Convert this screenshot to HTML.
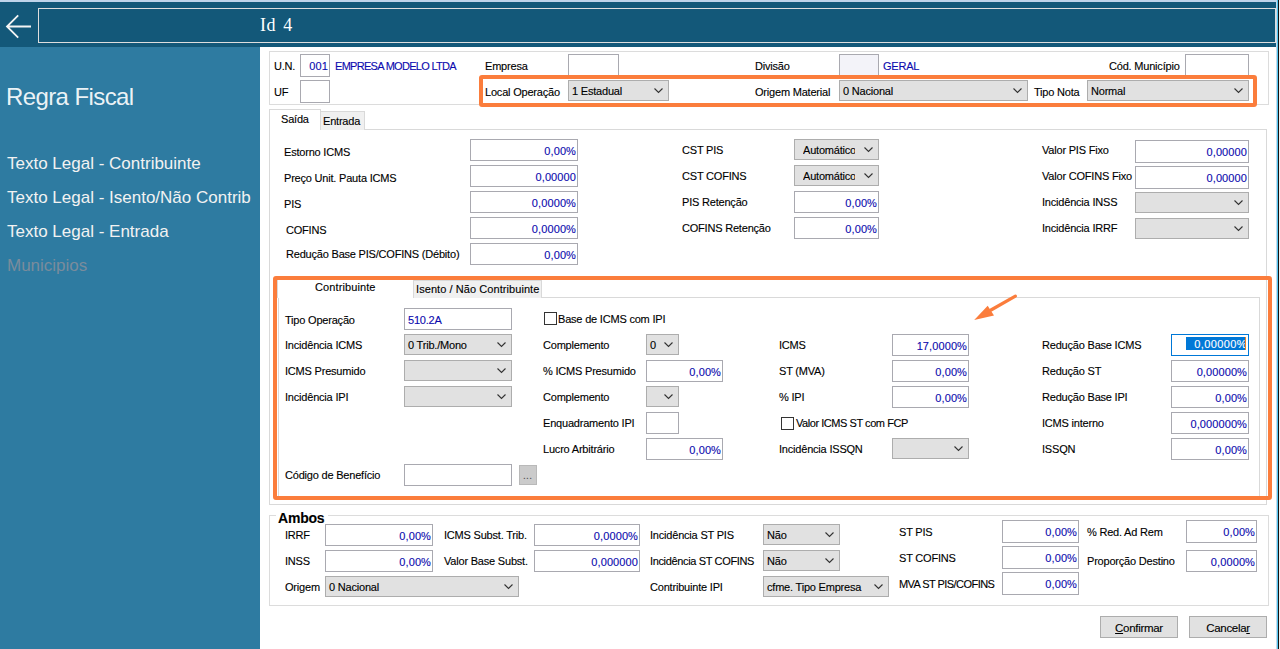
<!DOCTYPE html>
<html><head><meta charset="utf-8"><style>
html,body{margin:0;padding:0;width:1280px;height:649px;overflow:hidden;background:#fff;font-family:'Liberation Sans', sans-serif;}
.t{position:absolute;white-space:nowrap;font-size:11px;line-height:13px;font-family:'Liberation Sans', sans-serif;letter-spacing:-0.2px;-webkit-text-stroke:0.12px currentColor;}
.s{position:absolute;white-space:nowrap;font-family:'Liberation Sans', sans-serif;color:#fff;}
</style></head><body>
<div style="position:absolute;left:0px;top:0px;width:1280px;height:2px;background:#bfd4ea;"></div>
<div style="position:absolute;left:0px;top:2px;width:1276px;height:45px;background:#135879;"></div>
<svg style="position:absolute;left:0;top:0" width="40" height="47" viewBox="0 0 40 47"><path d="M18.2 15.4 L7 26.5 L18.2 37.6 M7 26.5 L31 26.5" fill="none" stroke="#f4f4f4" stroke-width="1.8"/></svg>
<div style="position:absolute;left:38px;top:8px;width:1238px;height:35px;box-sizing:border-box;border:1px solid #dedede;"></div>
<div class="s" style="left:260px;top:14px;font-family:'Liberation Serif',serif;font-size:18px;line-height:22px;letter-spacing:0.6px;word-spacing:2px">Id 4</div>
<div style="position:absolute;left:1276px;top:0px;width:1px;height:649px;background:#c5d8ea;"></div>
<div style="position:absolute;left:1277px;top:0px;width:1px;height:649px;background:#50c6ef;"></div>
<div style="position:absolute;left:1278px;top:0px;width:1px;height:649px;background:#111;"></div>
<div style="position:absolute;left:1279px;top:0px;width:1px;height:649px;background:#f0f0f0;"></div>
<div style="position:absolute;left:0px;top:47px;width:260px;height:602px;background:#2e7ba1;"></div>
<div class="s" style="left:6px;top:83px;font-size:24px;line-height:28px;letter-spacing:-0.6px;color:rgba(255,255,255,0.92)">Regra Fiscal</div>
<div class="s" style="left:7px;top:154px;font-size:17px;line-height:20px;color:#f2f2f2">Texto Legal - Contribuinte</div>
<div class="s" style="left:7px;top:188px;font-size:17px;line-height:20px;color:#f2f2f2">Texto Legal - Isento/Não Contrib</div>
<div class="s" style="left:7px;top:222px;font-size:17px;line-height:20px;color:#f2f2f2">Texto Legal - Entrada</div>
<div class="s" style="left:7px;top:256px;font-size:17px;line-height:20px;color:#7a8c9c">Municipios</div>
<div style="position:absolute;left:269px;top:51px;width:1000px;height:54px;box-sizing:border-box;border:1px solid #dcdcdc;"></div>
<div class="t" style="left:274px;top:60px;font-size:11px;color:#000;">U.N.</div>
<div style="position:absolute;left:300px;top:54px;width:30px;height:23px;box-sizing:border-box;border:1px solid #a9a9b0;background:#fff;"></div>
<div class="t" style="left:300px;width:28px;text-align:right;top:60px;color:#0c0aae;letter-spacing:0.1px;">001</div>
<div class="t" style="left:335px;top:60px;font-size:11px;color:#0c0aae;letter-spacing:-0.7px">EMPRESA MODELO LTDA</div>
<div class="t" style="left:274px;top:86px;font-size:11px;color:#000;">UF</div>
<div style="position:absolute;left:300px;top:80px;width:30px;height:23px;box-sizing:border-box;border:1px solid #a9a9b0;background:#fff;"></div>
<div class="t" style="left:485px;top:60px;font-size:11px;color:#000;">Empresa</div>
<div style="position:absolute;left:568px;top:54px;width:51px;height:23px;box-sizing:border-box;border:1px solid #a9a9b0;background:#fff;"></div>
<div class="t" style="left:755px;top:60px;font-size:11px;color:#000;">Divisão</div>
<div style="position:absolute;left:839px;top:54px;width:40px;height:23px;box-sizing:border-box;border:1px solid #a9a9b0;background:#f3f3f9;"></div>
<div class="t" style="left:883px;top:60px;font-size:11px;color:#0c0aae;">GERAL</div>
<div class="t" style="left:1109px;top:60px;font-size:11px;color:#000;">Cód. Município</div>
<div style="position:absolute;left:1185px;top:54px;width:64px;height:23px;box-sizing:border-box;border:1px solid #a9a9b0;background:#fff;"></div>
<div class="t" style="left:485px;top:86px;font-size:11px;color:#000;">Local Operação</div>
<div style="position:absolute;left:568px;top:80px;width:101px;height:21px;box-sizing:border-box;border:1px solid #adadad;background:#e1e1e1;"></div>
<div class="t" style="left:572px;top:85px;">1 Estadual</div>
<svg style="position:absolute;left:654px;top:88px" width="10" height="6" viewBox="0 0 10 6"><path d="M0.5 0.5 L4.5 4.5 L8.5 0.5" fill="none" stroke="#333" stroke-width="1.1"/></svg>
<div class="t" style="left:755px;top:86px;font-size:11px;color:#000;">Origem Material</div>
<div style="position:absolute;left:839px;top:80px;width:189px;height:21px;box-sizing:border-box;border:1px solid #adadad;background:#e1e1e1;"></div>
<div class="t" style="left:843px;top:85px;">0 Nacional</div>
<svg style="position:absolute;left:1013px;top:88px" width="10" height="6" viewBox="0 0 10 6"><path d="M0.5 0.5 L4.5 4.5 L8.5 0.5" fill="none" stroke="#333" stroke-width="1.1"/></svg>
<div class="t" style="left:1034px;top:86px;font-size:11px;color:#000;">Tipo Nota</div>
<div style="position:absolute;left:1087px;top:80px;width:162px;height:21px;box-sizing:border-box;border:1px solid #adadad;background:#e1e1e1;"></div>
<div class="t" style="left:1091px;top:85px;">Normal</div>
<svg style="position:absolute;left:1234px;top:88px" width="10" height="6" viewBox="0 0 10 6"><path d="M0.5 0.5 L4.5 4.5 L8.5 0.5" fill="none" stroke="#333" stroke-width="1.1"/></svg>
<div style="position:absolute;left:269px;top:129px;width:998px;height:376px;box-sizing:border-box;border:1px solid #d9d9d9;"></div>
<div style="position:absolute;left:320px;top:111px;width:45px;height:19px;box-sizing:border-box;border:1px solid #d9d9d9;border-bottom:none;background:#f0f0f0;"></div>
<div style="position:absolute;left:269px;top:109px;width:52px;height:21px;box-sizing:border-box;border:1px solid #d9d9d9;border-bottom:none;background:#fff;"></div>
<div class="t" style="left:281px;top:113px;font-size:11px;color:#000;">Saída</div>
<div class="t" style="left:323px;top:115px;font-size:11px;color:#000;">Entrada</div>
<div class="t" style="left:284px;top:146px;font-size:11px;color:#000;">Estorno ICMS</div>
<div style="position:absolute;left:470px;top:139px;width:108px;height:22px;box-sizing:border-box;border:1px solid #a9a9b0;background:#fff;"></div>
<div class="t" style="left:470px;width:106px;text-align:right;top:145px;color:#0c0aae;letter-spacing:0.1px;">0,00%</div>
<div class="t" style="left:284px;top:172px;font-size:11px;color:#000;">Preço Unit. Pauta ICMS</div>
<div style="position:absolute;left:470px;top:165px;width:108px;height:22px;box-sizing:border-box;border:1px solid #a9a9b0;background:#fff;"></div>
<div class="t" style="left:470px;width:106px;text-align:right;top:171px;color:#0c0aae;letter-spacing:0.1px;">0,00000</div>
<div class="t" style="left:284px;top:198px;font-size:11px;color:#000;">PIS</div>
<div style="position:absolute;left:470px;top:191px;width:108px;height:22px;box-sizing:border-box;border:1px solid #a9a9b0;background:#fff;"></div>
<div class="t" style="left:470px;width:106px;text-align:right;top:197px;color:#0c0aae;letter-spacing:0.1px;">0,0000%</div>
<div class="t" style="left:286px;top:224px;font-size:11px;color:#000;">COFINS</div>
<div style="position:absolute;left:470px;top:217px;width:108px;height:22px;box-sizing:border-box;border:1px solid #a9a9b0;background:#fff;"></div>
<div class="t" style="left:470px;width:106px;text-align:right;top:223px;color:#0c0aae;letter-spacing:0.1px;">0,0000%</div>
<div class="t" style="left:286px;top:248px;font-size:11px;color:#000;">Redução Base PIS/COFINS (Débito)</div>
<div style="position:absolute;left:470px;top:243px;width:108px;height:22px;box-sizing:border-box;border:1px solid #a9a9b0;background:#fff;"></div>
<div class="t" style="left:470px;width:106px;text-align:right;top:249px;color:#0c0aae;letter-spacing:0.1px;">0,00%</div>
<div class="t" style="left:682px;top:144px;font-size:11px;color:#000;">CST PIS</div>
<div class="t" style="left:682px;top:170px;font-size:11px;color:#000;">CST COFINS</div>
<div class="t" style="left:682px;top:196px;font-size:11px;color:#000;">PIS Retenção</div>
<div class="t" style="left:682px;top:222px;font-size:11px;color:#000;">COFINS Retenção</div>
<div style="position:absolute;left:794px;top:139px;width:85px;height:21px;box-sizing:border-box;border:1px solid #adadad;background:#e1e1e1;"></div>
<div class="t" style="left:803px;top:144px;width:52px;overflow:hidden;">Automático</div>
<svg style="position:absolute;left:864px;top:147px" width="10" height="6" viewBox="0 0 10 6"><path d="M0.5 0.5 L4.5 4.5 L8.5 0.5" fill="none" stroke="#333" stroke-width="1.1"/></svg>
<div style="position:absolute;left:794px;top:165px;width:85px;height:21px;box-sizing:border-box;border:1px solid #adadad;background:#e1e1e1;"></div>
<div class="t" style="left:803px;top:170px;width:52px;overflow:hidden;">Automático</div>
<svg style="position:absolute;left:864px;top:173px" width="10" height="6" viewBox="0 0 10 6"><path d="M0.5 0.5 L4.5 4.5 L8.5 0.5" fill="none" stroke="#333" stroke-width="1.1"/></svg>
<div style="position:absolute;left:794px;top:191px;width:85px;height:22px;box-sizing:border-box;border:1px solid #a9a9b0;background:#fff;"></div>
<div class="t" style="left:794px;width:83px;text-align:right;top:197px;color:#0c0aae;letter-spacing:0.1px;">0,00%</div>
<div style="position:absolute;left:794px;top:217px;width:85px;height:22px;box-sizing:border-box;border:1px solid #a9a9b0;background:#fff;"></div>
<div class="t" style="left:794px;width:83px;text-align:right;top:223px;color:#0c0aae;letter-spacing:0.1px;">0,00%</div>
<div class="t" style="left:1042px;top:144px;font-size:11px;color:#000;">Valor PIS Fixo</div>
<div class="t" style="left:1042px;top:170px;font-size:11px;color:#000;">Valor COFINS Fixo</div>
<div class="t" style="left:1042px;top:196px;font-size:11px;color:#000;">Incidência INSS</div>
<div class="t" style="left:1042px;top:222px;font-size:11px;color:#000;">Incidência IRRF</div>
<div style="position:absolute;left:1135px;top:140px;width:114px;height:23px;box-sizing:border-box;border:1px solid #a9a9b0;background:#fff;"></div>
<div class="t" style="left:1135px;width:112px;text-align:right;top:146px;color:#0c0aae;letter-spacing:0.1px;">0,00000</div>
<div style="position:absolute;left:1135px;top:166px;width:114px;height:23px;box-sizing:border-box;border:1px solid #a9a9b0;background:#fff;"></div>
<div class="t" style="left:1135px;width:112px;text-align:right;top:172px;color:#0c0aae;letter-spacing:0.1px;">0,00000</div>
<div style="position:absolute;left:1135px;top:192px;width:114px;height:21px;box-sizing:border-box;border:1px solid #adadad;background:#e1e1e1;"></div>
<svg style="position:absolute;left:1234px;top:200px" width="10" height="6" viewBox="0 0 10 6"><path d="M0.5 0.5 L4.5 4.5 L8.5 0.5" fill="none" stroke="#333" stroke-width="1.1"/></svg>
<div style="position:absolute;left:1135px;top:218px;width:114px;height:21px;box-sizing:border-box;border:1px solid #adadad;background:#e1e1e1;"></div>
<svg style="position:absolute;left:1234px;top:226px" width="10" height="6" viewBox="0 0 10 6"><path d="M0.5 0.5 L4.5 4.5 L8.5 0.5" fill="none" stroke="#333" stroke-width="1.1"/></svg>
<div style="position:absolute;left:278px;top:297px;width:982px;height:202px;box-sizing:border-box;border:1px solid #d9d9d9;"></div>
<div style="position:absolute;left:413px;top:280px;width:129px;height:18px;box-sizing:border-box;border:1px solid #d9d9d9;border-bottom:none;background:#f0f0f0;"></div>
<div style="position:absolute;left:277px;top:278px;width:137px;height:20px;box-sizing:border-box;border:1px solid #d9d9d9;border-bottom:none;background:#fff;"></div>
<div class="t" style="left:315px;top:281px;font-size:11px;color:#000;letter-spacing:0.1px">Contribuinte</div>
<div class="t" style="left:416px;top:283px;font-size:11px;color:#000;letter-spacing:0.07px">Isento / Não Contribuinte</div>
<div class="t" style="left:285px;top:314px;font-size:11px;color:#000;">Tipo Operação</div>
<div style="position:absolute;left:404px;top:308px;width:108px;height:22px;box-sizing:border-box;border:1px solid #a9a9b0;background:#fff;"></div>
<div class="t" style="left:408px;top:314px;color:#0c0aae;">510.2A</div>
<div class="t" style="left:285px;top:339px;font-size:11px;color:#000;">Incidência ICMS</div>
<div style="position:absolute;left:404px;top:334px;width:108px;height:21px;box-sizing:border-box;border:1px solid #adadad;background:#e1e1e1;"></div>
<div class="t" style="left:408px;top:339px;">0 Trib./Mono</div>
<svg style="position:absolute;left:497px;top:342px" width="10" height="6" viewBox="0 0 10 6"><path d="M0.5 0.5 L4.5 4.5 L8.5 0.5" fill="none" stroke="#333" stroke-width="1.1"/></svg>
<div class="t" style="left:285px;top:365px;font-size:11px;color:#000;">ICMS Presumido</div>
<div style="position:absolute;left:404px;top:360px;width:108px;height:21px;box-sizing:border-box;border:1px solid #adadad;background:#e1e1e1;"></div>
<svg style="position:absolute;left:497px;top:368px" width="10" height="6" viewBox="0 0 10 6"><path d="M0.5 0.5 L4.5 4.5 L8.5 0.5" fill="none" stroke="#333" stroke-width="1.1"/></svg>
<div class="t" style="left:285px;top:391px;font-size:11px;color:#000;">Incidência IPI</div>
<div style="position:absolute;left:404px;top:386px;width:108px;height:21px;box-sizing:border-box;border:1px solid #adadad;background:#e1e1e1;"></div>
<svg style="position:absolute;left:497px;top:394px" width="10" height="6" viewBox="0 0 10 6"><path d="M0.5 0.5 L4.5 4.5 L8.5 0.5" fill="none" stroke="#333" stroke-width="1.1"/></svg>
<div class="t" style="left:285px;top:469px;font-size:11px;color:#000;">Código de Benefício</div>
<div style="position:absolute;left:404px;top:464px;width:108px;height:22px;box-sizing:border-box;border:1px solid #a9a9b0;background:#fff;"></div>
<div style="position:absolute;left:519px;top:465px;width:18px;height:20px;box-sizing:border-box;border:1px solid #b9b9b9;background:#cbcbcb;"></div>
<div class="t" style="left:523px;top:469px;color:#505050;font-size:10px;letter-spacing:0.3px">...</div>
<div style="position:absolute;left:544px;top:312px;width:13px;height:13px;box-sizing:border-box;border:1px solid #333;background:#fff;"></div>
<div class="t" style="left:558px;top:313px;font-size:11px;color:#000;">Base de ICMS com IPI</div>
<div class="t" style="left:543px;top:339px;font-size:11px;color:#000;">Complemento</div>
<div style="position:absolute;left:646px;top:334px;width:33px;height:21px;box-sizing:border-box;border:1px solid #adadad;background:#e1e1e1;"></div>
<div class="t" style="left:650px;top:339px;">0</div>
<svg style="position:absolute;left:664px;top:342px" width="10" height="6" viewBox="0 0 10 6"><path d="M0.5 0.5 L4.5 4.5 L8.5 0.5" fill="none" stroke="#333" stroke-width="1.1"/></svg>
<div class="t" style="left:543px;top:365px;font-size:11px;color:#000;">% ICMS Presumido</div>
<div style="position:absolute;left:646px;top:360px;width:77px;height:22px;box-sizing:border-box;border:1px solid #a9a9b0;background:#fff;"></div>
<div class="t" style="left:646px;width:75px;text-align:right;top:366px;color:#0c0aae;letter-spacing:0.1px;">0,00%</div>
<div class="t" style="left:543px;top:391px;font-size:11px;color:#000;">Complemento</div>
<div style="position:absolute;left:646px;top:386px;width:33px;height:21px;box-sizing:border-box;border:1px solid #adadad;background:#e1e1e1;"></div>
<svg style="position:absolute;left:664px;top:394px" width="10" height="6" viewBox="0 0 10 6"><path d="M0.5 0.5 L4.5 4.5 L8.5 0.5" fill="none" stroke="#333" stroke-width="1.1"/></svg>
<div class="t" style="left:543px;top:417px;font-size:11px;color:#000;">Enquadramento IPI</div>
<div style="position:absolute;left:646px;top:412px;width:33px;height:22px;box-sizing:border-box;border:1px solid #a9a9b0;background:#fff;"></div>
<div class="t" style="left:543px;top:443px;font-size:11px;color:#000;">Lucro Arbitrário</div>
<div style="position:absolute;left:646px;top:438px;width:77px;height:22px;box-sizing:border-box;border:1px solid #a9a9b0;background:#fff;"></div>
<div class="t" style="left:646px;width:75px;text-align:right;top:444px;color:#0c0aae;letter-spacing:0.1px;">0,00%</div>
<div class="t" style="left:779px;top:339px;font-size:11px;color:#000;">ICMS</div>
<div style="position:absolute;left:892px;top:334px;width:77px;height:22px;box-sizing:border-box;border:1px solid #a9a9b0;background:#fff;"></div>
<div class="t" style="left:892px;width:75px;text-align:right;top:340px;color:#0c0aae;letter-spacing:0.1px;">17,0000%</div>
<div class="t" style="left:779px;top:365px;font-size:11px;color:#000;">ST (MVA)</div>
<div style="position:absolute;left:892px;top:360px;width:77px;height:22px;box-sizing:border-box;border:1px solid #a9a9b0;background:#fff;"></div>
<div class="t" style="left:892px;width:75px;text-align:right;top:366px;color:#0c0aae;letter-spacing:0.1px;">0,00%</div>
<div class="t" style="left:779px;top:391px;font-size:11px;color:#000;">% IPI</div>
<div style="position:absolute;left:892px;top:386px;width:77px;height:22px;box-sizing:border-box;border:1px solid #a9a9b0;background:#fff;"></div>
<div class="t" style="left:892px;width:75px;text-align:right;top:392px;color:#0c0aae;letter-spacing:0.1px;">0,00%</div>
<div style="position:absolute;left:781px;top:417px;width:13px;height:13px;box-sizing:border-box;border:1px solid #333;background:#fff;"></div>
<div class="t" style="left:796px;top:417px;font-size:11px;color:#000;letter-spacing:-0.45px">Valor ICMS ST com FCP</div>
<div class="t" style="left:779px;top:443px;font-size:11px;color:#000;">Incidência ISSQN</div>
<div style="position:absolute;left:892px;top:438px;width:77px;height:21px;box-sizing:border-box;border:1px solid #adadad;background:#e1e1e1;"></div>
<svg style="position:absolute;left:954px;top:446px" width="10" height="6" viewBox="0 0 10 6"><path d="M0.5 0.5 L4.5 4.5 L8.5 0.5" fill="none" stroke="#333" stroke-width="1.1"/></svg>
<div class="t" style="left:1042px;top:339px;font-size:11px;color:#000;">Redução Base ICMS</div>
<div style="position:absolute;left:1171px;top:334px;width:78px;height:22px;box-sizing:border-box;border:1px solid #0078d7;background:#fff;"></div>
<div style="position:absolute;left:1186px;top:337px;width:60px;height:13px;background:#0078d7;"></div>
<div class="t" style="left:1171px;width:76px;text-align:right;top:338px;color:#fff;letter-spacing:0.4px">0,00000%</div>
<div style="position:absolute;left:1245px;top:337px;width:1px;height:13px;background:#f08020;"></div>
<div class="t" style="left:1042px;top:365px;font-size:11px;color:#000;">Redução ST</div>
<div style="position:absolute;left:1171px;top:360px;width:78px;height:22px;box-sizing:border-box;border:1px solid #a9a9b0;background:#fff;"></div>
<div class="t" style="left:1171px;width:76px;text-align:right;top:366px;color:#0c0aae;letter-spacing:0.1px;">0,00000%</div>
<div class="t" style="left:1042px;top:391px;font-size:11px;color:#000;">Redução Base IPI</div>
<div style="position:absolute;left:1171px;top:386px;width:78px;height:22px;box-sizing:border-box;border:1px solid #a9a9b0;background:#fff;"></div>
<div class="t" style="left:1171px;width:76px;text-align:right;top:392px;color:#0c0aae;letter-spacing:0.1px;">0,00%</div>
<div class="t" style="left:1042px;top:417px;font-size:11px;color:#000;">ICMS interno</div>
<div style="position:absolute;left:1171px;top:412px;width:78px;height:22px;box-sizing:border-box;border:1px solid #a9a9b0;background:#fff;"></div>
<div class="t" style="left:1171px;width:76px;text-align:right;top:418px;color:#0c0aae;letter-spacing:0.1px;">0,000000%</div>
<div class="t" style="left:1042px;top:443px;font-size:11px;color:#000;">ISSQN</div>
<div style="position:absolute;left:1171px;top:438px;width:78px;height:22px;box-sizing:border-box;border:1px solid #a9a9b0;background:#fff;"></div>
<div class="t" style="left:1171px;width:76px;text-align:right;top:444px;color:#0c0aae;letter-spacing:0.1px;">0,00%</div>
<div style="position:absolute;left:479px;top:75px;width:778px;height:32px;box-sizing:border-box;border:4px solid #fb7d3c;border-radius:3px;"></div>
<div style="position:absolute;left:273px;top:276px;width:999px;height:224px;box-sizing:border-box;border:4px solid #fb7d3c;border-radius:3px;"></div>
<svg style="position:absolute;left:960px;top:285px" width="70" height="45" viewBox="0 0 70 45"><path d="M55.4 11.1 L31 25" stroke="#fb7d3c" stroke-width="3.2" stroke-linecap="round"/><path d="M14.2 35 L27.7 20.8 L34 30.5 Z" fill="#fb7d3c"/></svg>
<div style="position:absolute;left:269px;top:515px;width:1000px;height:91px;box-sizing:border-box;border:1px solid #dcdcdc;"></div>
<div class="t" style="left:276px;top:510px;font-size:14px;line-height:16px;font-weight:bold;background:#fff;padding:0 4px 0 2px">Ambos</div>
<div class="t" style="left:285px;top:529px;font-size:11px;color:#000;">IRRF</div>
<div style="position:absolute;left:325px;top:524px;width:108px;height:22px;box-sizing:border-box;border:1px solid #a9a9b0;background:#fff;"></div>
<div class="t" style="left:325px;width:106px;text-align:right;top:530px;color:#0c0aae;letter-spacing:0.1px;">0,00%</div>
<div class="t" style="left:285px;top:555px;font-size:11px;color:#000;">INSS</div>
<div style="position:absolute;left:325px;top:550px;width:108px;height:22px;box-sizing:border-box;border:1px solid #a9a9b0;background:#fff;"></div>
<div class="t" style="left:325px;width:106px;text-align:right;top:556px;color:#0c0aae;letter-spacing:0.1px;">0,00%</div>
<div class="t" style="left:285px;top:581px;font-size:11px;color:#000;">Origem</div>
<div style="position:absolute;left:325px;top:576px;width:194px;height:21px;box-sizing:border-box;border:1px solid #adadad;background:#e1e1e1;"></div>
<div class="t" style="left:329px;top:581px;">0 Nacional</div>
<svg style="position:absolute;left:504px;top:584px" width="10" height="6" viewBox="0 0 10 6"><path d="M0.5 0.5 L4.5 4.5 L8.5 0.5" fill="none" stroke="#333" stroke-width="1.1"/></svg>
<div class="t" style="left:444px;top:529px;font-size:11px;color:#000;">ICMS Subst. Trib.</div>
<div style="position:absolute;left:534px;top:524px;width:106px;height:22px;box-sizing:border-box;border:1px solid #a9a9b0;background:#fff;"></div>
<div class="t" style="left:534px;width:104px;text-align:right;top:530px;color:#0c0aae;letter-spacing:0.1px;">0,0000%</div>
<div class="t" style="left:444px;top:555px;font-size:11px;color:#000;">Valor Base Subst.</div>
<div style="position:absolute;left:534px;top:550px;width:106px;height:22px;box-sizing:border-box;border:1px solid #a9a9b0;background:#fff;"></div>
<div class="t" style="left:534px;width:104px;text-align:right;top:556px;color:#0c0aae;letter-spacing:0.1px;">0,000000</div>
<div class="t" style="left:650px;top:529px;font-size:11px;color:#000;">Incidência ST PIS</div>
<div style="position:absolute;left:763px;top:524px;width:77px;height:21px;box-sizing:border-box;border:1px solid #adadad;background:#e1e1e1;"></div>
<div class="t" style="left:767px;top:529px;">Não</div>
<svg style="position:absolute;left:825px;top:532px" width="10" height="6" viewBox="0 0 10 6"><path d="M0.5 0.5 L4.5 4.5 L8.5 0.5" fill="none" stroke="#333" stroke-width="1.1"/></svg>
<div class="t" style="left:650px;top:555px;font-size:11px;color:#000;letter-spacing:-0.35px">Incidência ST COFINS</div>
<div style="position:absolute;left:763px;top:550px;width:77px;height:21px;box-sizing:border-box;border:1px solid #adadad;background:#e1e1e1;"></div>
<div class="t" style="left:767px;top:555px;">Não</div>
<svg style="position:absolute;left:825px;top:558px" width="10" height="6" viewBox="0 0 10 6"><path d="M0.5 0.5 L4.5 4.5 L8.5 0.5" fill="none" stroke="#333" stroke-width="1.1"/></svg>
<div class="t" style="left:650px;top:581px;font-size:11px;color:#000;">Contribuinte IPI</div>
<div style="position:absolute;left:763px;top:576px;width:126px;height:21px;box-sizing:border-box;border:1px solid #adadad;background:#e1e1e1;"></div>
<div class="t" style="left:767px;top:581px;">cfme. Tipo Empresa</div>
<svg style="position:absolute;left:874px;top:584px" width="10" height="6" viewBox="0 0 10 6"><path d="M0.5 0.5 L4.5 4.5 L8.5 0.5" fill="none" stroke="#333" stroke-width="1.1"/></svg>
<div class="t" style="left:899px;top:526px;font-size:11px;color:#000;">ST PIS</div>
<div style="position:absolute;left:1002px;top:520px;width:77px;height:23px;box-sizing:border-box;border:1px solid #a9a9b0;background:#fff;"></div>
<div class="t" style="left:1002px;width:75px;text-align:right;top:526px;color:#0c0aae;letter-spacing:0.1px;">0,00%</div>
<div class="t" style="left:899px;top:552px;font-size:11px;color:#000;">ST COFINS</div>
<div style="position:absolute;left:1002px;top:546px;width:77px;height:23px;box-sizing:border-box;border:1px solid #a9a9b0;background:#fff;"></div>
<div class="t" style="left:1002px;width:75px;text-align:right;top:552px;color:#0c0aae;letter-spacing:0.1px;">0,00%</div>
<div class="t" style="left:899px;top:578px;font-size:11px;color:#000;letter-spacing:-0.55px">MVA ST PIS/COFINS</div>
<div style="position:absolute;left:1002px;top:572px;width:77px;height:23px;box-sizing:border-box;border:1px solid #a9a9b0;background:#fff;"></div>
<div class="t" style="left:1002px;width:75px;text-align:right;top:578px;color:#0c0aae;letter-spacing:0.1px;">0,00%</div>
<div class="t" style="left:1087px;top:526px;font-size:11px;color:#000;">% Red. Ad Rem</div>
<div style="position:absolute;left:1186px;top:520px;width:71px;height:23px;box-sizing:border-box;border:1px solid #a9a9b0;background:#fff;"></div>
<div class="t" style="left:1186px;width:69px;text-align:right;top:526px;color:#0c0aae;letter-spacing:0.1px;">0,00%</div>
<div class="t" style="left:1087px;top:555px;font-size:11px;color:#000;">Proporção Destino</div>
<div style="position:absolute;left:1186px;top:550px;width:71px;height:22px;box-sizing:border-box;border:1px solid #a9a9b0;background:#fff;"></div>
<div class="t" style="left:1186px;width:69px;text-align:right;top:556px;color:#0c0aae;letter-spacing:0.1px;">0,0000%</div>
<div style="position:absolute;left:1100px;top:616px;width:78px;height:22px;box-sizing:border-box;border:1px solid #adadad;background:#e1e1e1;"></div>
<div class="t" style="left:1100px;width:78px;text-align:center;top:621px;font-size:11.5px;line-height:14px;letter-spacing:-0.3px"><u>C</u>onfirmar</div>
<div style="position:absolute;left:1189px;top:616px;width:78px;height:22px;box-sizing:border-box;border:1px solid #adadad;background:#e1e1e1;"></div>
<div class="t" style="left:1189px;width:78px;text-align:center;top:621px;font-size:11.5px;line-height:14px;letter-spacing:-0.3px">Cancela<u>r</u></div>
</body></html>
